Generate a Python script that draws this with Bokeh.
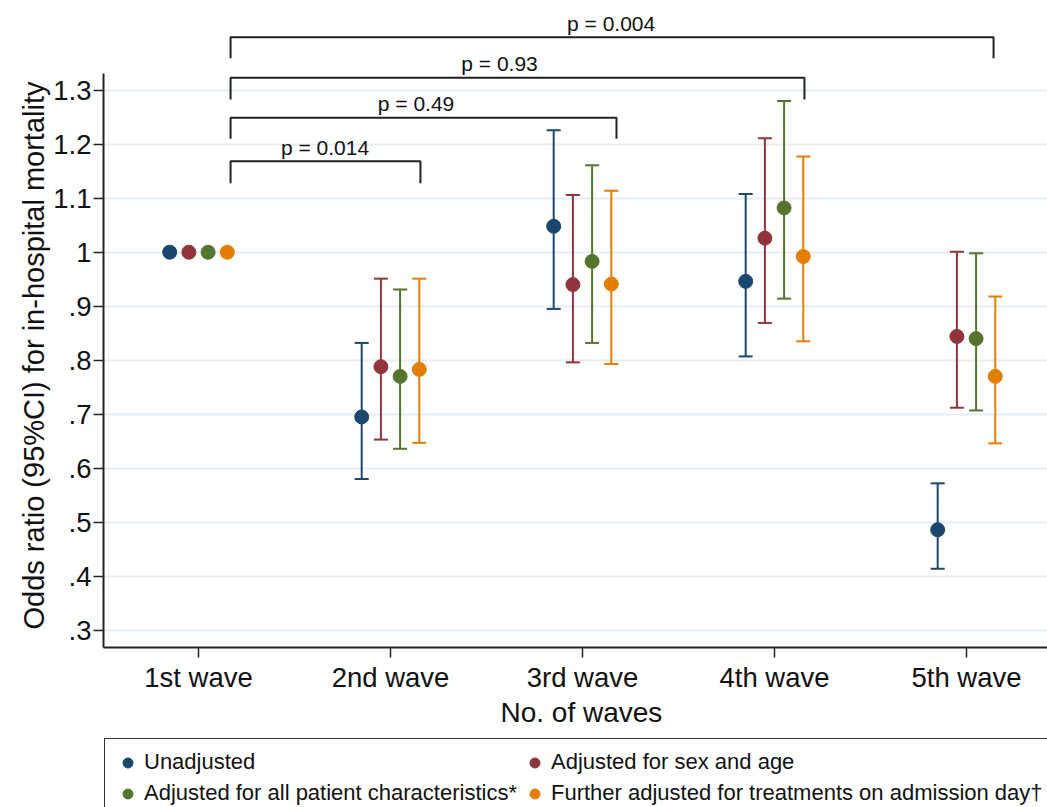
import math
from bokeh.plotting import figure
from bokeh.models import (ColumnDataSource, Whisker, TeeHead, Range1d, FixedTicker,
                          CustomJSTickFormatter, Legend, LegendItem, Title)
from bokeh.layouts import column
from bokeh.core.properties import value
from bokeh.embed import file_html
from bokeh.resources import INLINE

# ---------------- data ----------------
waves = [1, 2, 3, 4, 5]
wave_labels = ["1st wave", "2nd wave", "3rd wave", "4th wave", "5th wave"]

series_names = ["Unadjusted", "Adjusted for sex and age",
                "Adjusted for all patient characteristics*",
                "Further adjusted for treatments on admission day\u2020"]
series_colors = ["#1a476f", "#90353b", "#55752f", "#e37e00"]
series_offsets = [-0.15, -0.05, 0.05, 0.15]

nan = float("nan")
or_unadj = [1.0, 0.695, 1.048, 0.946, 0.486]
lo_unadj = [nan, 0.580, 0.895, 0.807, 0.414]
hi_unadj = [nan, 0.832, 1.226, 1.108, 0.572]

or_sexage = [1.0, 0.788, 0.940, 1.026, 0.844]
lo_sexage = [nan, 0.653, 0.796, 0.869, 0.712]
hi_sexage = [nan, 0.951, 1.106, 1.211, 1.001]

or_allpt = [1.0, 0.770, 0.983, 1.082, 0.840]
lo_allpt = [nan, 0.636, 0.832, 0.914, 0.707]
hi_allpt = [nan, 0.931, 1.161, 1.280, 0.998]

or_treat = [1.0, 0.783, 0.941, 0.992, 0.770]
lo_treat = [nan, 0.647, 0.793, 0.835, 0.646]
hi_treat = [nan, 0.951, 1.114, 1.177, 0.918]

y_ticks = [0.3, 0.4, 0.5, 0.6, 0.7, 0.8, 0.9, 1.0, 1.1, 1.2, 1.3]

# comparison brackets (1st wave vs later waves)
bracket_left = [1.167, 1.167, 1.167, 1.167]
bracket_right = [2.156, 3.177, 4.156, 5.141]
bracket_top = [1.1685, 1.2489, 1.3230, 1.3981]
bracket_foot = [1.1278, 1.2100, 1.2828, 1.3593]
bracket_text = ["p = 0.014", "p = 0.49", "p = 0.93", "p = 0.004"]
bracket_text_x = [1.659, 2.133, 2.568, 3.149]
bracket_text_y = [1.194, 1.275, 1.349, 1.423]

FONT = "Liberation Sans"
INK = "#111111"

# ---------------- main figure ----------------
p = figure(width=1047, height=737, output_backend="svg", toolbar_location=None,
           title=None, x_range=Range1d(0.5052, 5.4219), y_range=Range1d(0.268, 1.4661),
           min_border_left=103, min_border_right=0, min_border_top=0, min_border_bottom=90)
p.outline_line_color = None
p.background_fill_color = "white"
p.border_fill_color = "white"

p.xaxis.ticker = FixedTicker(ticks=waves)
p.xaxis.major_label_overrides = {w: l for w, l in zip(waves, wave_labels)}
p.yaxis.ticker = FixedTicker(ticks=y_ticks)
p.yaxis.formatter = CustomJSTickFormatter(code="""
    let s = tick.toFixed(1);
    if (s.endsWith('.0')) s = s.slice(0, -2);
    if (s.startsWith('0')) s = s.slice(1);
    return s;
""")
p.yaxis.bounds = (0.268, 1.3315)
for ax in (p.xaxis, p.yaxis):
    ax.axis_line_color = "#222222"
    ax.axis_line_width = 2
    ax.major_tick_line_color = "#222222"
    ax.major_tick_line_width = 1.5
    ax.major_tick_in = 0
    ax.major_tick_out = 10
    ax.minor_tick_line_color = None
    ax.major_label_text_font = FONT
    ax.major_label_text_font_size = "27.5px"
    ax.major_label_text_color = INK
p.xaxis.major_label_standoff = 4
p.yaxis.major_label_standoff = 2

p.xgrid.visible = False
p.ygrid.ticker = FixedTicker(ticks=y_ticks)
p.ygrid.grid_line_color = "#e6eef3"
p.ygrid.grid_line_width = 2

# axis titles as side-panel titles (precise placement)
p.add_layout(Title(text="No. of waves", align="left", offset=397, vertical_align="middle",
                   standoff=0, text_font=FONT, text_font_size="28px",
                   text_font_style="normal", text_color=INK), "below")
p.add_layout(Title(text="Odds ratio (95%CI) for in-hospital mortality", align="left",
                   offset=18, vertical_align="middle", standoff=0, text_font=FONT,
                   text_font_size="29px", text_font_style="normal", text_color=INK), "left")

# brackets
bxs = [[l, l, r, r] for l, r in zip(bracket_left, bracket_right)]
bys = [[f, t, t, f] for t, f in zip(bracket_top, bracket_foot)]
p.multi_line(xs=bxs, ys=bys, line_color="#222222", line_width=2)
p.text(x=bracket_text_x, y=bracket_text_y, text=bracket_text, text_align="center",
       text_baseline="middle", text_font=value(FONT), text_font_size="21px",
       text_color=INK)

# series
all_or = [or_unadj, or_sexage, or_allpt, or_treat]
all_lo = [lo_unadj, lo_sexage, lo_allpt, lo_treat]
all_hi = [hi_unadj, hi_sexage, hi_allpt, hi_treat]

for name, col, off, ors, los, his in zip(series_names, series_colors, series_offsets,
                                         all_or, all_lo, all_hi):
    xs = [w + off for w in waves]
    wx, wl, wh = [], [], []
    for x, lo, hi in zip(xs, los, his):
        if not (math.isnan(lo) or math.isnan(hi)):
            wx.append(x); wl.append(lo); wh.append(hi)
    wsrc = ColumnDataSource(data=dict(x=wx, lower=wl, upper=wh))
    wk = Whisker(source=wsrc, base="x", lower="lower", upper="upper", dimension="height",
                 line_color=col, line_width=2, level="underlay",
                 upper_head=TeeHead(size=14, line_color=col, line_width=2),
                 lower_head=TeeHead(size=14, line_color=col, line_width=2))
    p.add_layout(wk)
    src = ColumnDataSource(data=dict(x=xs, y=ors))
    p.scatter("x", "y", source=src, size=14, fill_color=col, line_color=col, marker="circle")

# ---------------- legend strip (frame aligned with main plot's frame) ----------------
p2 = figure(width=1047, height=70, output_backend="svg", toolbar_location=None,
            title=None, x_axis_type=None, y_axis_type=None,
            x_range=Range1d(0, 1), y_range=Range1d(0, 1),
            min_border_left=0, min_border_right=0, min_border_top=0, min_border_bottom=0)
p2.outline_line_color = None
p2.background_fill_color = "white"
p2.border_fill_color = "white"

# legend keys only: one hidden point per series, outside the strip's visible range
leg_renderers = []
for col in series_colors:
    leg_renderers.append(p2.scatter(x=[-1.0], y=[-1.0], size=10, fill_color=col,
                                    line_color=col, marker="circle"))

legend = Legend(items=[LegendItem(label=n, renderers=[r]) for n, r in zip(series_names, leg_renderers)],
                location=(1, -10), orientation="horizontal", ncols=2,
                glyph_width=25, glyph_height=25, label_height=25, label_standoff=4,
                spacing=5, padding=10, margin=0,
                label_text_font=FONT, label_text_font_size="22px", label_text_color=INK,
                border_line_color="#333333", border_line_width=1.5, border_line_alpha=1.0,
                background_fill_color="white", background_fill_alpha=1.0)
p2.add_layout(legend)

layout = column(p, p2, spacing=0)
open("out.html", "w").write(file_html(layout, INLINE))
